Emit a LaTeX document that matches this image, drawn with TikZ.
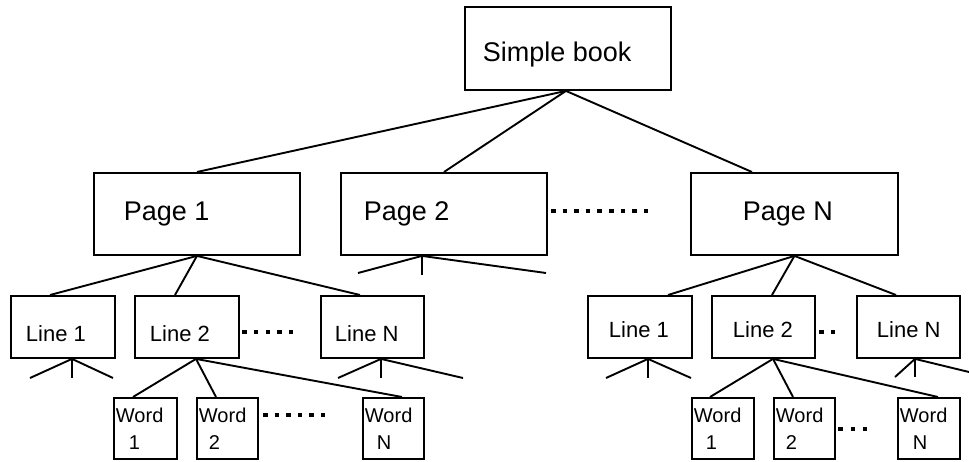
\documentclass[tikz,border=0pt]{standalone}
\usepackage{fontspec}
\setmainfont{Liberation Sans}
\begin{document}
\begin{tikzpicture}[x=1pt,y=-1pt,
  bx/.style={draw, line width=1.9pt, anchor=north west, inner ysep=0pt},
  big/.style={font=\fontsize{27}{32}\selectfont},
  mid/.style={font=\fontsize{22}{26}\selectfont},
  sml/.style={font=\fontsize{20}{27}\selectfont, inner xsep=2pt, minimum height=61pt, align=left},
  ln/.style={line width=1.9pt},
  dotrow/.style={line width=4.5pt, dash pattern=on 4.5pt off #1}]
\useasboundingbox (0,0) rectangle (969,461);

% top
\node[bx, big, inner xsep=18pt, text height=55pt, text depth=28pt] (sb) at (464,6) {\makebox[170pt][l]{Simple book}};
% pages
\node[bx, big, inner xsep=30pt, text height=48pt, text depth=34pt] (p1) at (93,172) {\makebox[146pt][l]{Page 1}};
\node[bx, big, inner xsep=23pt, text height=48pt, text depth=34pt] (p2) at (340,172) {\makebox[160pt][l]{Page 2}};
\node[bx, big, inner xsep=52pt, text height=48pt, text depth=34pt] (pN) at (690,172) {\makebox[103pt][l]{Page N}};
% lines (left)
\node[bx, mid, inner xsep=15pt, text height=46pt, text depth=16pt] (l1) at (10,295) {\makebox[74pt][l]{Line 1}};
\node[bx, mid, inner xsep=15pt, text height=46pt, text depth=16pt] (l2) at (134,295) {\makebox[74pt][l]{Line 2}};
\node[bx, mid, inner xsep=14pt, text height=46pt, text depth=16pt] (lN) at (320,295) {\makebox[75pt][l]{Line N}};
% lines (right)
\node[bx, mid, inner xsep=21pt, text height=42pt, text depth=20pt] (r1) at (587,295) {\makebox[62pt][l]{Line 1}};
\node[bx, mid, inner xsep=21pt, text height=42pt, text depth=20pt] (r2) at (711,295) {\makebox[61pt][l]{Line 2}};
\node[bx, mid, inner xsep=20pt, text height=42pt, text depth=20pt] (rN) at (856,295) {\makebox[63pt][l]{Line N}};
% words (left)
\node[bx, sml, text width=59pt] (w1) at (113,397) {Word\\\hspace*{13pt}1};
\node[bx, sml, text width=57pt] (w2) at (196,397) {Word\\\hspace*{10pt}2};
\node[bx, sml, text width=57pt] (wN) at (362,397) {Word\\\hspace*{12pt}N};
% words (right)
\node[bx, sml, text width=58pt] (v1) at (691,397) {Word\\\hspace*{12pt}1};
\node[bx, sml, text width=57pt] (v2) at (773,397) {Word\\\hspace*{10pt}2};
\node[bx, sml, text width=58pt] (vN) at (897,397) {Word\\\hspace*{13pt}N};

% stub ends
\coordinate (p2a) at (358,273); \coordinate (p2b) at (422,275); \coordinate (p2c) at (546,273);
\coordinate (l1a) at (30,378); \coordinate (l1b) at (72,378); \coordinate (l1c) at (113,378);
\coordinate (lNa) at (338,378); \coordinate (lNb) at (381,378); \coordinate (lNc) at (463,378);
\coordinate (r1a) at (606,378); \coordinate (r1b) at (648,378); \coordinate (r1c) at (691,378);
\coordinate (rNa) at (895,377); \coordinate (rNb) at (915,377); \coordinate (rNc) at (969,372);

% connectors
\draw[ln] ([xshift=-2pt]sb.south) -- (p1.north);
\draw[ln] ([xshift=-2pt]sb.south) -- (p2.north);
\draw[ln] ([xshift=-2pt]sb.south) -- ([xshift=62pt]pN.north west);

\draw[ln] (p1.south) -- ([xshift=40pt]l1.north west);
\draw[ln] (p1.south) -- ([xshift=41pt]l2.north west);
\draw[ln] (p1.south) -- ([xshift=40pt]lN.north west);

\draw[ln] (p2a) -- ([xshift=82pt]p2.south west) -- (p2c);
\draw[ln] ([xshift=82pt]p2.south west) -- (p2b);

\draw[ln] (pN.south) -- ([xshift=81pt]r1.north west);
\draw[ln] (pN.south) -- ([xshift=61pt]r2.north west);
\draw[ln] (pN.south) -- ([xshift=40pt]rN.north west);

\draw[ln] (l1a) -- ([xshift=62pt]l1.south west) -- (l1c);
\draw[ln] ([xshift=62pt]l1.south west) -- (l1b);
\draw[ln] (lNa) -- ([xshift=61pt]lN.south west) -- (lNc);
\draw[ln] ([xshift=61pt]lN.south west) -- (lNb);
\draw[ln] (r1a) -- ([xshift=61pt]r1.south west) -- (r1c);
\draw[ln] ([xshift=61pt]r1.south west) -- (r1b);
\draw[ln] (rNa) -- ([xshift=59pt]rN.south west) -- (rNc);
\draw[ln] ([xshift=59pt]rN.south west) -- (rNb);

\draw[ln] ([xshift=62pt]l2.south west) -- ([xshift=20pt]w1.north west);
\draw[ln] ([xshift=62pt]l2.south west) -- ([xshift=20pt]w2.north west);
\draw[ln] ([xshift=62pt]l2.south west) -- ([xshift=40pt]wN.north west);
\draw[ln] ([xshift=62pt]r2.south west) -- ([xshift=19pt]v1.north west);
\draw[ln] ([xshift=62pt]r2.south west) -- ([xshift=20pt]v2.north west);
\draw[ln] ([xshift=62pt]r2.south west) -- ([xshift=41pt]vN.north west);

% ellipsis dots
\draw[dotrow=7.1pt] (551,211) -- (648,211);
\draw[dotrow=7.25pt] (242,332) -- (293,332);
\draw[dotrow=7.5pt] (819,332) -- (835,332);
\draw[dotrow=7.1pt] (263,415) -- (325,415);
\draw[dotrow=8pt] (838,429) -- (867,429);
\end{tikzpicture}
\end{document}
